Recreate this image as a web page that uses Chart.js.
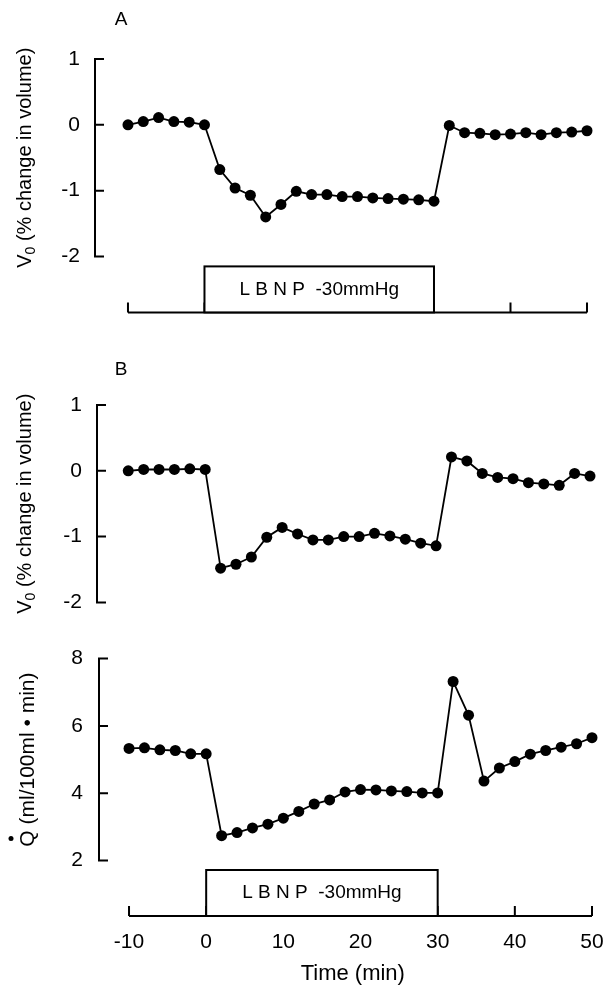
<!DOCTYPE html>
<html lang="en">
<head>
<meta charset="UTF-8">
<title>LBNP -30mmHg: calf volume and flow</title>
<style>
  body { margin: 0; background: #fff; }
  canvas.panel { position: absolute; left: 0; }
</style>
</head>
<body>
<canvas id="chartA" class="panel" width="610" height="340" style="top:0px"></canvas>
<canvas id="chartB" class="panel" width="610" height="290" style="top:340px"></canvas>
<canvas id="chartC" class="panel" width="610" height="364" style="top:630px"></canvas>

<script src="https://cdn.jsdelivr.net/npm/chart.js"></script>
<script>
// time points (min)
const times = [-10, -8, -6, -4, -2, 0, 2, 4, 6, 8, 10, 12, 14, 16, 18, 20, 22, 24, 26, 28, 30,
               32, 34, 36, 38, 40, 42, 44, 46, 48, 50];
// panel A: V0 (% change in volume)
const volumeA = [0.00, 0.05, 0.11, 0.05, 0.04, 0.00, -0.68, -0.96, -1.07, -1.40, -1.21, -1.01, -1.06, -1.06,
                 -1.09, -1.09, -1.11, -1.12, -1.13, -1.14, -1.16, -0.01, -0.12, -0.13, -0.15, -0.14, -0.12,
                 -0.15, -0.12, -0.11, -0.09];
// panel B: V0 (% change in volume)
const volumeB = [0.00, 0.02, 0.02, 0.02, 0.03, 0.02, -1.48, -1.42, -1.31, -1.01, -0.86, -0.96, -1.05, -1.05,
                 -1.00, -1.00, -0.95, -0.99, -1.04, -1.10, -1.14, 0.21, 0.15, -0.04, -0.10, -0.12, -0.18,
                 -0.20, -0.22, -0.04, -0.08];
// bottom panel: Q (ml/100ml . min)
const flowQ = [5.33, 5.35, 5.29, 5.27, 5.17, 5.17, 2.74, 2.83, 2.97, 3.08, 3.26, 3.46, 3.68, 3.80,
               4.04, 4.11, 4.10, 4.07, 4.05, 4.01, 4.01, 7.32, 6.32, 4.36, 4.75, 4.94, 5.16, 5.27,
               5.37, 5.47, 5.65];

const timeTicks = [-10, 0, 10, 20, 30, 40, 50];
const volumeTicks = [-2, -1, 0, 1];
const flowTicks = [2, 4, 6, 8];
const lbnpStart = 0;
const lbnpEnd = 30;
const lbnpLabel = 'L B N P  -30mmHg';

const FONT = 'Arial, "Liberation Sans", sans-serif';

function drawYTitle(ctx, cx, cy, kind) {
  ctx.save();
  ctx.translate(cx, cy);
  ctx.rotate(-Math.PI / 2);
  ctx.fillStyle = '#000';
  ctx.textBaseline = 'middle';
  ctx.textAlign = 'left';
  if (kind === 'V0') {
    const big = '20px ' + FONT, small = '14px ' + FONT;
    const rest = ' (% change in volume)';
    ctx.font = big;
    const wV = ctx.measureText('V').width, wRest = ctx.measureText(rest).width;
    ctx.font = small;
    const w0 = ctx.measureText('0').width;
    let x = -(wV + w0 + wRest) / 2;
    ctx.font = big; ctx.fillText('V', x, 0); x += wV;
    ctx.font = small; ctx.fillText('0', x, 6); x += w0;
    ctx.font = big; ctx.fillText(rest, x, 0);
  } else {
    const txt = 'Q (ml/100ml \u2022 min)';
    ctx.font = '21px ' + FONT;
    const w = ctx.measureText(txt).width, wQ = ctx.measureText('Q').width;
    const x = -w / 2;
    ctx.fillText(txt, x, 0);
    ctx.beginPath();
    ctx.arc(x + wQ / 2, -17, 2.5, 0, Math.PI * 2);
    ctx.fill();
  }
  ctx.restore();
}

const panelDecor = {
  id: 'panelDecor',
  afterDraw(chart, args, opts) {
    const ctx = chart.ctx;
    const xs = chart.scales.x, ys = chart.scales.y;
    const area = chart.chartArea;
    const yt = opts.yTicks;
    ctx.save();
    ctx.strokeStyle = '#000';
    ctx.lineWidth = 2;
    // y axis "[" with inward ticks
    const yTop = ys.getPixelForValue(yt[yt.length - 1]);
    const yBot = ys.getPixelForValue(yt[0]);
    ctx.beginPath();
    ctx.moveTo(area.left, yTop);
    ctx.lineTo(area.left, yBot);
    yt.forEach(v => {
      const p = ys.getPixelForValue(v);
      ctx.moveTo(area.left - 1, p);
      ctx.lineTo(area.left + 9, p);
    });
    ctx.stroke();

    if (opts.timeBase) {
      const base = area.bottom;
      ctx.beginPath();
      ctx.moveTo(xs.getPixelForValue(timeTicks[0]), base);
      ctx.lineTo(xs.getPixelForValue(timeTicks[timeTicks.length - 1]), base);
      timeTicks.forEach(t => {
        const p = xs.getPixelForValue(t);
        ctx.moveTo(p, base);
        ctx.lineTo(p, base - 10);
      });
      ctx.stroke();
      const bx0 = xs.getPixelForValue(lbnpStart), bx1 = xs.getPixelForValue(lbnpEnd);
      const bh = opts.boxHeight;
      ctx.fillStyle = '#fff';
      ctx.fillRect(bx0, base - bh, bx1 - bx0, bh);
      ctx.strokeRect(bx0, base - bh, bx1 - bx0, bh);
      ctx.fillStyle = '#000';
      ctx.font = '19px ' + FONT;
      ctx.textAlign = 'center';
      ctx.textBaseline = 'middle';
      ctx.fillText(lbnpLabel, (bx0 + bx1) / 2, base - bh / 2);
    }

    if (opts.letter) {
      ctx.fillStyle = '#000';
      ctx.font = '19px ' + FONT;
      ctx.textAlign = 'center';
      ctx.textBaseline = 'middle';
      ctx.fillText(opts.letter, opts.letterX, opts.letterY);
    }

    if (opts.xTitle) {
      ctx.fillStyle = '#000';
      ctx.font = '22px ' + FONT;
      ctx.textAlign = 'center';
      ctx.textBaseline = 'middle';
      ctx.fillText(opts.xTitle, xs.getPixelForValue(19), opts.xTitleY);
    }

    drawYTitle(ctx, opts.titleX, (yTop + yBot) / 2, opts.yTitle);
    ctx.restore();
  }
};

function makePanel(id, values, cfg) {
  return new Chart(document.getElementById(id), {
    type: 'line',
    data: {
      datasets: [{
        data: times.map((t, i) => ({ x: t, y: values[i] })),
        borderColor: '#000',
        backgroundColor: '#000',
        borderWidth: 1.8,
        pointRadius: 5.5,
        pointBackgroundColor: '#000',
        pointBorderWidth: 0,
        tension: 0,
        clip: false
      }]
    },
    options: {
      responsive: false,
      animation: false,
      layout: { padding: { top: cfg.top, right: cfg.right, bottom: cfg.bottom, left: 0 } },
      plugins: {
        legend: { display: false },
        tooltip: { enabled: false },
        panelDecor: cfg.decor
      },
      scales: {
        x: {
          type: 'linear',
          min: cfg.xMin,
          max: 50,
          grid: { display: false, drawTicks: false },
          border: { display: false },
          ticks: {
            display: cfg.xLabels,
            padding: 14,
            color: '#000',
            font: { family: FONT, size: 21 },
            callback: v => v
          },
          afterBuildTicks: s => { s.ticks = timeTicks.map(v => ({ value: v })); },
          afterFit: s => { s.height = cfg.xHeight; s.paddingLeft = 0; s.paddingRight = 0; }
        },
        y: {
          min: cfg.yMin,
          max: cfg.yMax,
          grid: { display: false, drawTicks: false },
          border: { display: false },
          ticks: {
            padding: cfg.labelPad,
            color: '#000',
            font: { family: FONT, size: 21 }
          },
          afterBuildTicks: s => { s.ticks = cfg.yTicks.map(v => ({ value: v })); },
          afterFit: s => { s.width = cfg.left; }
        }
      }
    },
    plugins: [panelDecor]
  });
}

makePanel('chartA', volumeA, {
  left: 95, right: 23, top: 59, bottom: 24, xHeight: 0, xLabels: false, xMin: -14.31, labelPad: 15,
  yMin: -2.85, yMax: 1, yTicks: volumeTicks,
  decor: { yTicks: volumeTicks, timeBase: true, boxHeight: 46, letter: 'A', letterX: 121, letterY: 20,
           yTitle: 'V0', titleX: 25 }
});

makePanel('chartB', volumeB, {
  left: 97, right: 20, top: 65, bottom: 22, xHeight: 0, xLabels: false, xMin: -14.06, labelPad: 15,
  yMin: -2, yMax: 1, yTicks: volumeTicks,
  decor: { yTicks: volumeTicks, timeBase: false, letter: 'B', letterX: 121, letterY: 30,
           yTitle: 'V0', titleX: 25 }
});

makePanel('chartC', flowQ, {
  left: 99, right: 18, top: 26, bottom: 0, xHeight: 78, xLabels: true, xMin: -13.89, labelPad: 16,
  yMin: 0.353, yMax: 8, yTicks: flowTicks,
  decor: { yTicks: flowTicks, timeBase: true, boxHeight: 46, yTitle: 'Q', titleX: 28,
           xTitle: 'Time (min)', xTitleY: 344 }
});
</script>
</body>
</html>
